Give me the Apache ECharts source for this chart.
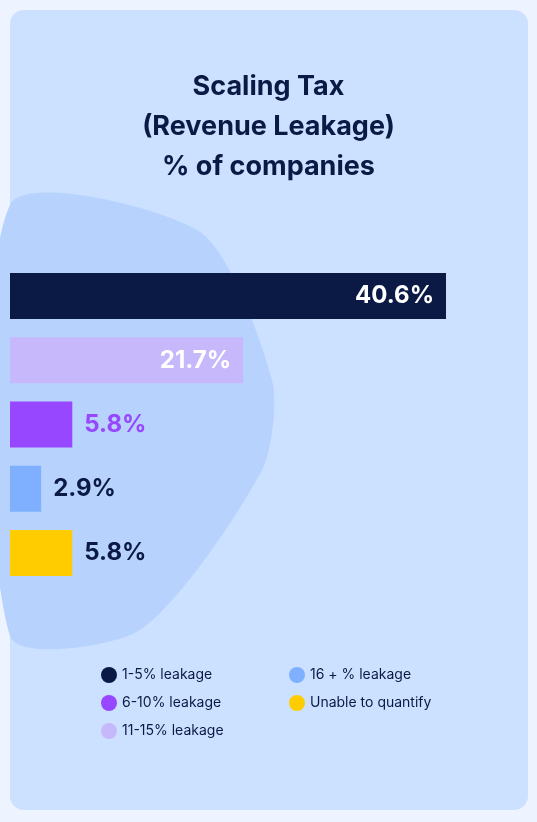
<!DOCTYPE html>
<html><head><meta charset="utf-8">
<script src="https://cdn.jsdelivr.net/npm/echarts@6/dist/echarts.min.js"></script>
<style>html,body{margin:0;padding:0;background:#eef4ff;}#c{width:537px;height:822px;}</style>
</head><body><div id="c"></div>
<script>
const categories = ["1-5% leakage","11-15% leakage","6-10% leakage","16 + % leakage","Unable to quantify"];
const values = [40.6, 21.7, 5.8, 2.9, 5.8];
const colors = ["#0b1a45","#c7b8fb","#9747ff","#7fb0ff","#ffcc00"];
const labelColors = ["#ffffff","#ffffff","#9747ff","#0b1a45","#0b1a45"];
const labelInside = [true,true,false,false,false];
const legendLeft = ["1-5% leakage","6-10% leakage","11-15% leakage"];
const legendRight = ["16 + % leakage","Unable to quantify"];

const chart = echarts.init(document.getElementById('c'));
const series = categories.map((name,i)=>({
  name, type:'bar', barWidth:46, barGap:'-100%',
  itemStyle:{color:colors[i]},
  label:{show:true, position: labelInside[i]?'insideRight':'right', distance:12,
    formatter:p=>p.value.toFixed(1)+'%', color:labelColors[i],
    fontSize:24, fontWeight:'bold', fontFamily:'Inter'},
  data: categories.map((c,j)=> j===i ? values[i] : null)
}));
const legStyle = {textStyle:{color:'#0b1a45',fontSize:14,fontFamily:'Inter'}, icon:'circle', itemWidth:16, itemHeight:16, itemGap:12, orient:'vertical'};
chart.setOption({
  animation:false,
  title:{text:'Scaling Tax\n(Revenue Leakage)\n% of companies', left:'center', top:62,
    textStyle:{color:'#0b1a45',fontSize:27,fontWeight:'bold',fontFamily:'Inter',lineHeight:40}},
  graphic:[
    {type:'rect', shape:{x:10,y:10,width:518,height:800,r:14}, style:{fill:'#cce0ff'}, z:-10},
    {type:'polygon', shape:{points:[[10,205],[200,232],[272,380],[262,470],[140,630],[10,636]], smooth:0.25}, style:{fill:'#b6d2fd'}, z:-9}
  ],
  legend:[
    Object.assign({data:legendLeft, left:96, top:662}, legStyle),
    Object.assign({data:legendRight, left:284, top:662}, legStyle)
  ],
  grid:{left:10, top:264, width:436, height:321},
  xAxis:{type:'value', min:0, max:40.6, show:false},
  yAxis:{type:'category', data:categories, inverse:true, show:false},
  series
});
</script></body></html>
